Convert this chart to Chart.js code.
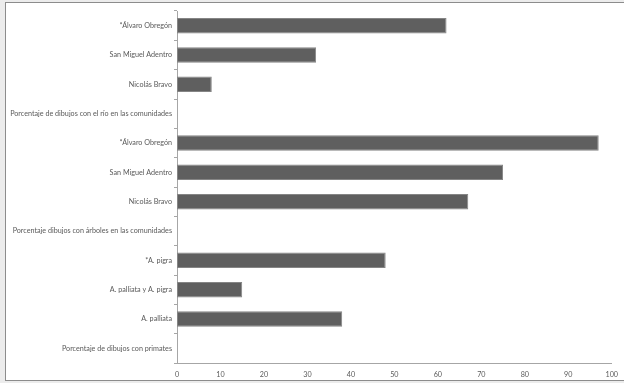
<!DOCTYPE html>
<html>
<head>
<meta charset="utf-8">
<script src="https://cdn.jsdelivr.net/npm/chart.js@4/dist/chart.umd.min.js"></script>
<style>
  html, body { margin: 0; padding: 0; background: #ececec; }
  #frame {
    position: absolute; left: 5px; top: 2px; width: 619px; height: 377px;
    background: #fff; border: 1px solid #8c8c8c; border-right: none;
  }
  #chart { display: block; }
</style>
</head>
<body>
<div id="frame"><canvas id="chart" width="619" height="377"></canvas></div>
<script>
"use strict";
// categories, top to bottom
const categorias = [
    "*Álvaro Obregón",
    "San Miguel Adentro",
    "Nicolás Bravo",
    "Porcentaje de dibujos con el río en las comunidades",
    "*Álvaro Obregón",
    "San Miguel Adentro",
    "Nicolás Bravo",
    "Porcentaje dibujos con árboles en las comunidades",
    "*A. pigra",
    "A. palliata y A. pigra",
    "A. palliata",
    "Porcentaje de dibujos con primates"
];
// null = heading rows without a bar
const valores = [62, 32, 8, null, 97, 75, 67, null, 48, 15, 38, null];
const ticksX = [0, 10, 20, 30, 40, 50, 60, 70, 80, 90, 100];

const grisTexto = "#5a5a5a";
const grisEje = "#a6a6a6";
const fuente = { family: "Lato, 'Open Sans', sans-serif", size: 7.2 };

let ctx = document.getElementById("chart").getContext("2d");
let myChart = new Chart(ctx, {
    type: "bar",
    data: {
        labels: categorias,
        datasets: [{
            data: valores,
            backgroundColor: "#5f5f5f",
            borderColor: "#858585",
            borderWidth: 1,
            borderSkipped: false,
            barPercentage: 0.53,
            categoryPercentage: 1
        }]
    },
    options: {
        indexAxis: "y",
        responsive: false,
        animation: false,
        plugins: { legend: { display: false }, tooltip: { enabled: false } },
        layout: { padding: { top: 8, right: 13, bottom: 0, left: 0 } },
        scales: {
            x: {
                min: 0,
                max: 100,
                afterBuildTicks: function (axis) {
                    axis.ticks = ticksX.map(function (v) { return { value: v }; });
                },
                afterFit: function (axis) { axis.height = 17; },
                grid: { display: false, drawTicks: false },
                border: { display: true, color: grisEje, width: 1 },
                ticks: { color: grisTexto, font: fuente, padding: 7, maxRotation: 0 }
            },
            y: {
                afterFit: function (axis) { axis.width = 171; },
                grid: { drawOnChartArea: false, drawTicks: true, tickLength: 3, color: grisEje, offset: true },
                border: { display: true, color: grisEje, width: 1 },
                ticks: { color: grisTexto, font: fuente, padding: 2, autoSkip: false }
            }
        }
    }
});
</script>
</body>
</html>
